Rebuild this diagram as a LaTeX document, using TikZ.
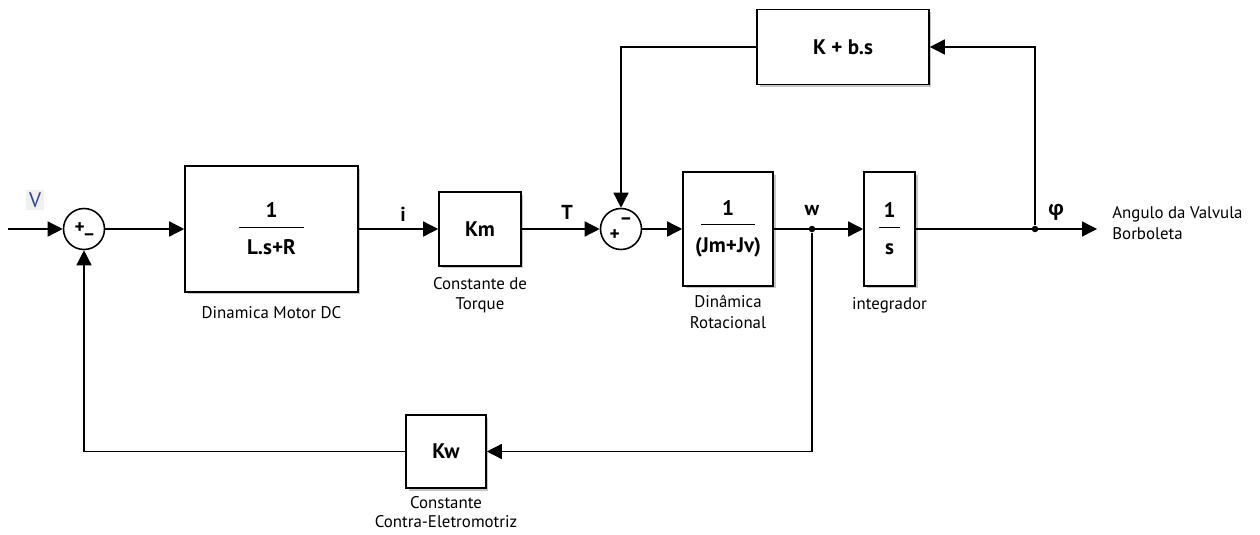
\documentclass[tikz,border=0pt]{standalone}
\usepackage{fontspec}
\setmainfont{PT Sans}
\newfontfamily\grkfont{Open Sans}
\usetikzlibrary{arrows.meta, positioning, shadows}
\definecolor{vblue}{RGB}{48,70,150}
\newcommand{\blkfrac}[3]{$\displaystyle{\hbox{#1}\over\hbox{\makebox[#3]{\rule{0pt}{1.2em}#2}}}$}
\tikzset{
    block/.style={draw, fill=white, line width=0.9pt,
        drop shadow={shadow xshift=0.05cm, shadow yshift=-0.05cm, opacity=0.45},
        font=\fontsize{12}{14}\selectfont\bfseries},
    sumnode/.style={draw, circle, fill=white, line width=0.9pt, minimum size=0.82cm,
        inner sep=0pt, font=\fontsize{11}{13}\selectfont\bfseries},
    sig/.style={line width=0.8pt, -{Triangle[length=0.3cm, width=0.3cm]}},
    caption/.style={font=\fontsize{9.6}{11.5}\selectfont, align=center, inner sep=0pt},
    sigl/.style={font=\fontsize{11.5}{13}\selectfont\bfseries, inner sep=0pt},
    jdot/.style={circle, fill, inner sep=0pt, minimum size=0.13cm}
}
\begin{document}
\begin{tikzpicture}[x=0.02cm, y=-0.02cm]
    \useasboundingbox (0,0) rectangle (1260,534);
    % blocks of the forward path
    \coordinate (vin) at (8,229);
    \node[sumnode] (sum1) at (84,229) {+\raisebox{1pt}{\_}};
    \node[block, minimum width=3.46cm, minimum height=2.52cm] (mdc) at (271.5,229) {\blkfrac{1}{L.s+R}{1.3cm}};
    \node[block, minimum width=1.64cm, minimum height=1.48cm] (km) at (480,229) {Km};
    \node[sumnode] (sum2) at (621,229) {\raisebox{-4pt}{+}\raisebox{5pt}{–}};
    \node[block, minimum width=1.8cm, minimum height=2.28cm] (rot) at (728,229) {\blkfrac{1}{(Jm+Jv)}{1.08cm}};
    \node[block, minimum width=1.02cm, minimum height=2.28cm] (integ) at (889.5,229) {\blkfrac{1}{s}{0.42cm}};
    \node[jdot] (jw) at (812,229) {};
    \node[jdot] (jphi) at (1035,229) {};
    \coordinate (vout) at (1097,229);
    % feedback blocks
    \node[block, minimum width=3.44cm, minimum height=1.5cm] (kbs) at (843,47) {K + b.s};
    \node[block, minimum width=1.6cm, minimum height=1.46cm] (kw) at (446,451.5) {Kw};
    % captions
    \node[caption, below=0.27cm of mdc] (capmdc) {Dinamica Motor DC};
    \node[caption, below=0.2cm of km] (capkm) {Constante de\\Torque};
    \node[caption, below=0.17cm of rot] (caprot) {Dinâmica\\Rotacional};
    \node[caption, below=0.2cm of integ] (capint) {integrador};
    \node[caption, below=0.15cm of kw, font=\fontsize{9.6}{11}\selectfont] (capkw) {Constante\\Contra-Eletromotriz};
    \node[caption, anchor=west, align=left] (capout) at (1112,223) {Angulo da Valvula\\Borboleta};
    % signal labels
    \node[sigl, font=\fontsize{12}{14}\selectfont, text=vblue, fill=gray!12, inner sep=1.5pt] (lblv) at (35,200) {V};
    \node[sigl] (lbli) at (403,214) {i};
    \node[sigl] (lblt) at (567,212) {T};
    \node[sigl] (lblw) at (812,210) {w};
    \node[sigl] (lblphi) at (1056,212) {\grkfont φ};
    % connections
    \draw[sig] (vin) -- (sum1);
    \draw[sig] (sum1) -- (mdc);
    \draw[sig] (mdc) -- (km);
    \draw[sig] (km) -- (sum2);
    \draw[sig] (sum2) -- (rot);
    \draw[sig] (rot.east) -- (integ.west);
    \draw[sig] (integ.east) -- (vout);
    \draw[sig] (jphi) |- (kbs.east);
    \draw[sig] (kbs.west) -| (sum2.north);
    \draw[sig] (jw) |- (kw.east);
    \draw[sig] (kw.west) -| (sum1.south);
\end{tikzpicture}
\end{document}
